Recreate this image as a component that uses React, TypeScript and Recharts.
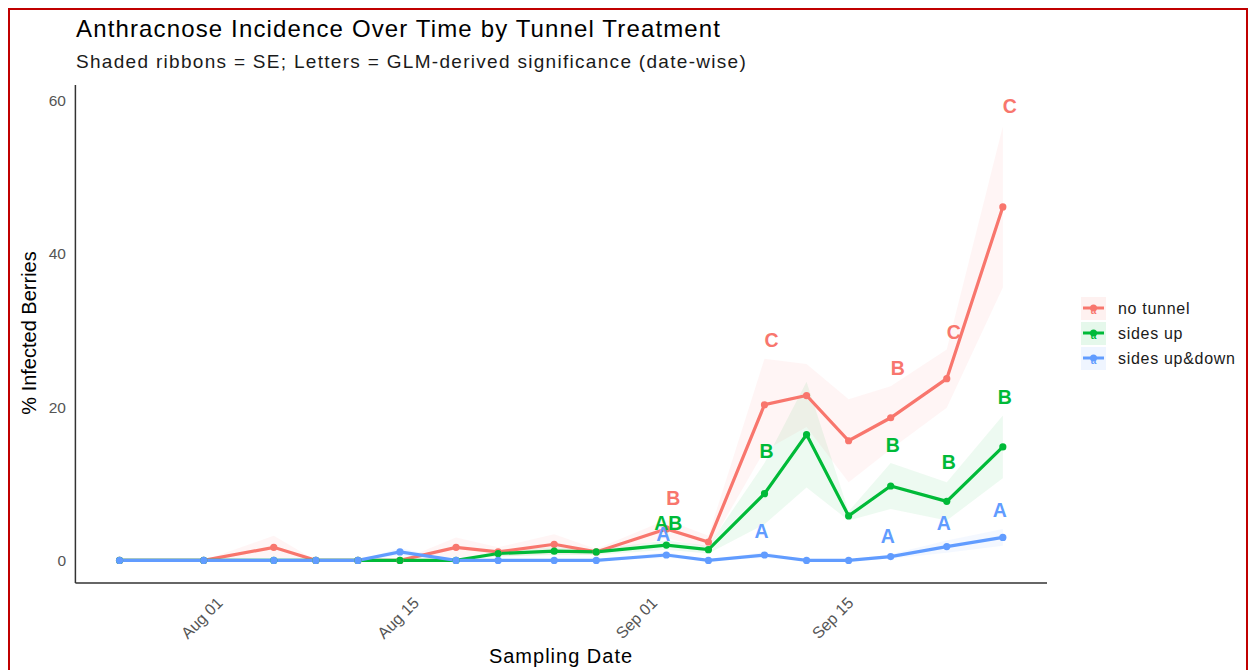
import {
	Area,
	ComposedChart,
	Line,
	Scatter,
	XAxis,
	YAxis,
} from 'recharts'

const dates = [
	'2024-07-25', '2024-07-31', '2024-08-05', '2024-08-08', '2024-08-11', '2024-08-14',
	'2024-08-18', '2024-08-21', '2024-08-25', '2024-08-28', '2024-09-02', '2024-09-05',
	'2024-09-09', '2024-09-12', '2024-09-15', '2024-09-18', '2024-09-22', '2024-09-26',
]

const noTunnel = [0, 0, 1.7, 0, 0, 0, 1.7, 1.1, 2.1, 1.1, 4.1, 2.4, 20.3, 21.5, 15.6, 18.6, 23.7, 46.1]
const noTunnelSe = [0, 0, 1.5, 0, 0, 0, 1.3, 0.6, 1.3, 0.4, 1.2, 0.8, 6.0, 4.1, 5.4, 4.1, 3.8, 10.5]

const sidesUp = [0, 0, 0, 0, 0, 0, 0, 0.9, 1.2, 1.1, 2.0, 1.4, 8.7, 16.4, 5.8, 9.7, 7.7, 14.8]
const sidesUpSe = [0, 0, 0, 0, 0, 0, 0, 0.4, 0.5, 0.4, 0.6, 0.5, 4.0, 6.9, 0.6, 3.0, 2.5, 4.1]

const sidesUpDown = [0, 0, 0, 0, 0, 1.1, 0, 0, 0, 0, 0.7, 0, 0.7, 0, 0, 0.5, 1.8, 3.0]
const sidesUpDownSe = [0, 0, 0, 0, 0, 0.5, 0, 0, 0, 0, 0.4, 0, 0.4, 0, 0, 0.3, 0.8, 1.1]

// significance letters (date-wise)
const letterDates = ['2024-09-02', '2024-09-09', '2024-09-18', '2024-09-22', '2024-09-26']
const noTunnelLetters = ['B', 'C', 'B', 'C', 'C']
const noTunnelLetterY = [8.2, 28.7, 25.1, 29.8, 59.2]
const sidesUpLetters = ['AB', 'B', 'B', 'B', 'B']
const sidesUpLetterY = [4.9, 14.3, 15.1, 12.8, 21.3]
const sidesUpDownLetters = ['A', 'A', 'A', 'A', 'A']
const sidesUpDownLetterY = [3.4, 3.8, 3.2, 4.9, 6.6]

const xTickDates = ['2024-08-01', '2024-08-15', '2024-09-01', '2024-09-15']
const xTickLabels = ['Aug 01', 'Aug 15', 'Sep 01', 'Sep 15']
const yTicks = [0, 20, 40, 60]

const FONT = '"Liberation Sans", Arial, Helvetica, sans-serif'

const toDay = (s: string) =>
	Date.UTC(+s.slice(0, 4), +s.slice(5, 7) - 1, +s.slice(8, 10)) / 86400000

const rows = dates.map((d, i) => ({
	day: toDay(d),
	nt: noTunnel[i],
	ntBand: [noTunnel[i] - noTunnelSe[i], noTunnel[i] + noTunnelSe[i]],
	su: sidesUp[i],
	suBand: [sidesUp[i] - sidesUpSe[i], sidesUp[i] + sidesUpSe[i]],
	sud: sidesUpDown[i],
	sudBand: [sidesUpDown[i] - sidesUpDownSe[i], sidesUpDown[i] + sidesUpDownSe[i]],
}))

const letterRows = (letters: string[], ys: number[]) =>
	letterDates.map((d, i) => ({ day: toDay(d), y: ys[i], letter: letters[i] }))

const series = [
	{ key: 'nt', name: 'no tunnel', color: '#F8766D', dx: 7, letters: letterRows(noTunnelLetters, noTunnelLetterY) },
	{ key: 'su', name: 'sides up', color: '#00BA38', dx: 2, letters: letterRows(sidesUpLetters, sidesUpLetterY) },
	{ key: 'sud', name: 'sides up&down', color: '#619CFF', dx: -3, letters: letterRows(sidesUpDownLetters, sidesUpDownLetterY) },
]

const firstDay = toDay(dates[0])
const lastDay = toDay(dates[dates.length - 1])
const pad = (lastDay - firstDay) * 0.05
const xTicks = xTickDates.map(toDay)

const XTick = (props: any) => {
	const idx = xTicks.indexOf(props.payload.value)
	const x = props.x + 6
	const y = 604
	return (
		<text
			x={x}
			y={y}
			transform={`rotate(-45, ${x}, ${y})`}
			textAnchor='end'
			fontSize={16}
			fontFamily={FONT}
			fill='#555'
		>
			{xTickLabels[idx]}
		</text>
	)
}

const YTick = (props: any) => (
	<text x={66} y={props.y} dy='0.36em' textAnchor='end' fontSize={15.5} fontFamily={FONT} fill='#555'>
		{props.payload.value}
	</text>
)

const letterShape = (color: string, dx: number) => (props: any) => (
	<text
		x={props.cx + dx}
		y={props.cy}
		dy='0.36em'
		textAnchor='middle'
		fontSize={19.5}
		fontWeight='bold'
		fontFamily={FONT}
		fill={color}
	>
		{props.payload.letter}
	</text>
)

export default function App() {
	return (
		<div style={{ position: 'absolute', left: 0, top: 0, width: 1249, height: 670, overflow: 'hidden', background: '#fff' }}>
			<div
				style={{
					position: 'absolute',
					left: 8,
					top: 8,
					width: 1240,
					height: 700,
					border: '2px solid #C00000',
					boxSizing: 'border-box',
				}}
			/>
			<div style={{ position: 'absolute', left: 0, top: 0 }}>
				<ComposedChart
					width={1249}
					height={670}
					data={rows}
					margin={{ top: 85, right: 202, left: 15.4, bottom: 27 }}
				>
					<XAxis
						dataKey='day'
						type='number'
						domain={[firstDay - pad, lastDay + pad]}
						allowDataOverflow
						ticks={xTicks}
						tick={<XTick />}
						tickLine={false}
						axisLine={{ stroke: '#333', strokeWidth: 1.5 }}
						height={60}
					/>
					<YAxis
						type='number'
						domain={[-2.95, 62]}
						allowDataOverflow
						ticks={yTicks}
						tick={<YTick />}
						tickLine={false}
						axisLine={{ stroke: '#333', strokeWidth: 1.5 }}
						width={60}
					/>
					{series.map((s) => (
						<Area
							key={s.key + 'Band'}
							dataKey={s.key + 'Band'}
							type='linear'
							stroke='none'
							fill={s.color}
							fillOpacity={0.07}
							dot={false}
							activeDot={false}
							isAnimationActive={false}
						/>
					))}
					{series.map((s) => (
						<Line
							key={s.key}
							dataKey={s.key}
							type='linear'
							stroke={s.color}
							strokeWidth={3.2}
							dot={{ r: 3.6, fill: s.color, stroke: s.color, strokeWidth: 0 }}
							activeDot={false}
							isAnimationActive={false}
						/>
					))}
					{series.map((s) => (
						<Scatter
							key={s.key + 'Letters'}
							data={s.letters}
							dataKey='y'
							shape={letterShape(s.color, s.dx)}
							isAnimationActive={false}
						/>
					))}
				</ComposedChart>
			</div>
			<svg
				width={1249}
				height={670}
				style={{ position: 'absolute', left: 0, top: 0, pointerEvents: 'none' }}
				fontFamily={FONT}
			>
				<text x={76} y={37} fontSize={24} letterSpacing={1.14} fill='#000'>
					Anthracnose Incidence Over Time by Tunnel Treatment
				</text>
				<text x={76} y={68} fontSize={19} letterSpacing={1.3} fill='#1A1A1A'>
					Shaded ribbons = SE; Letters = GLM-derived significance (date-wise)
				</text>
				<text x={36} y={333} fontSize={20} textAnchor='middle' transform='rotate(-90, 36, 333)' fill='#000'>
					% Infected Berries
				</text>
				<text x={561} y={663} fontSize={20} letterSpacing={1} textAnchor='middle' fill='#000'>
					Sampling Date
				</text>
				{series.map((s, i) => {
					const y = 297 + i * 25
					return (
						<g key={s.key + 'Legend'}>
							<rect x={1081} y={y} width={25} height={23} fill={s.color} fillOpacity={0.1} />
							<line x1={1083} x2={1104} y1={y + 11} y2={y + 11} stroke={s.color} strokeWidth={3} />
							<circle cx={1093.5} cy={y + 11} r={3.5} fill={s.color} />
							<text x={1093.5} y={y + 17} fontSize={10} fontWeight='bold' textAnchor='middle' fill={s.color}>
								a
							</text>
							<text x={1118} y={y + 17} fontSize={16} letterSpacing={0.7} fill='#1A1A1A'>
								{s.name}
							</text>
						</g>
					)
				})}
			</svg>
		</div>
	)
}
